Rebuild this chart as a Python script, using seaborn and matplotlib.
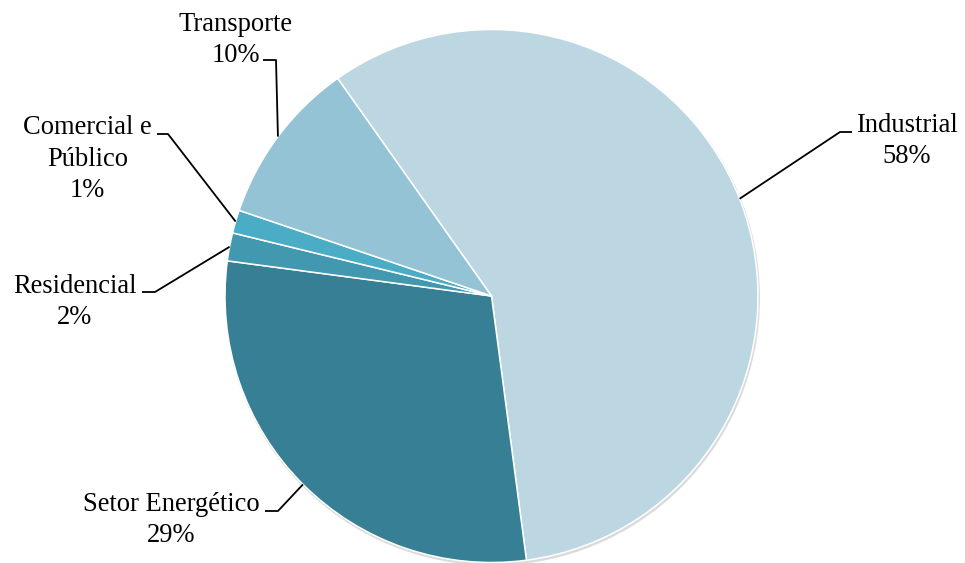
import numpy as np
import matplotlib
matplotlib.use("Agg")
import matplotlib.pyplot as plt
import matplotlib.patches as mpatches
import seaborn as sns

# ---- data ----
categories = ["Industrial", "Setor Energético", "Residencial", "Comercial e\nPúblico", "Transporte"]
values = [57.7, 29.2, 1.7, 1.4, 10.0]
colors_hex = ["#BDD7E2", "#377F94", "#4299AF", "#4BACC6", "#93C3D4"]

sns.set_theme(style="white")
plt.rcParams["font.family"] = ["Liberation Serif", "DejaVu Serif"]

W, H = 965, 563
fig = plt.figure(figsize=(W / 100, H / 100), dpi=100)
ax = fig.add_axes([0, 0, 1, 1])

def P(x, y):
    return (x, H - y)

cx, cy = P(491.5, 296)
R = 266.5
palette = sns.color_palette(colors_hex)

# subtle shadow behind the pie
ax.add_patch(mpatches.Circle((cx + 1.0, cy - 2.0), R + 1.0, facecolor="#9a9a9a",
                             edgecolor="none", alpha=0.35, zorder=0))

wedges, _ = ax.pie(values, colors=palette, startangle=125.26, counterclock=False,
                   center=(cx, cy), radius=R,
                   wedgeprops=dict(edgecolor="white", linewidth=1.1))

# label layout: (elbow point, end point, text center)
layout = [
    (P(840, 132), P(852, 132), P(907, 141)),   # Industrial
    (P(278, 511), P(265, 511), P(171, 520)),   # Setor Energético
    (P(155, 292), P(142, 292), P(74.5, 302)),  # Residencial
    (P(168, 134), P(157, 134), P(87.5, 159)),  # Comercial e Público
    (P(276, 60), P(263, 60), P(235.5, 40)),    # Transporte
]

fs = 26.5 * 72 / 100
for w, cat, val, (elbow, end, tpos) in zip(wedges, categories, values, layout):
    mid = np.deg2rad((w.theta1 + w.theta2) / 2)
    ex, ey = cx + R * np.cos(mid), cy + R * np.sin(mid)
    ax.plot([ex, elbow[0], end[0]], [ey, elbow[1], end[1]], color="black",
            lw=1.3, solid_capstyle="butt", zorder=5)
    ax.text(tpos[0], tpos[1], f"{cat}\n{round(val):d}%", ha="center", va="center",
            multialignment="center", fontsize=fs, color="black", linespacing=1.32,
            zorder=6)

ax.set_xlim(0, W)
ax.set_ylim(0, H)
ax.set_aspect("auto")
ax.axis("off")

fig.savefig("out.png", dpi=100, facecolor="white")
